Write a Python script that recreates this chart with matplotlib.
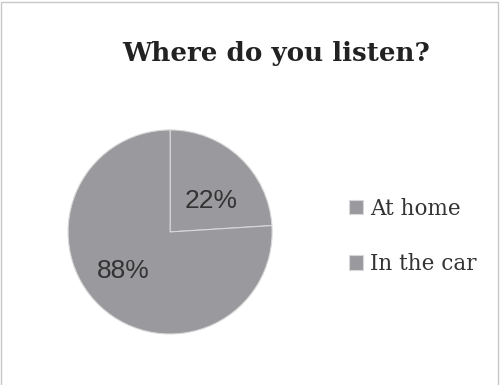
import matplotlib.pyplot as plt
import numpy as np
from matplotlib.patches import Rectangle

# data
places = ["At home", "In the car"]
slice_share = [24, 76]          # share of the circle each slice takes in the picture
slice_labels = ["22%", "88%"]   # labels as printed on the slices
slice_color = "#9a9a9e"

fig = plt.figure(figsize=(5.04, 3.85), dpi=100)
fig.patches.append(Rectangle((0.002, -0.01), 0.987, 1.005, transform=fig.transFigure,
                             fill=False, edgecolor="#c8c8c8", linewidth=1))

fig.text(0.548, 0.862, "Where do you listen?", ha="center", va="center",
         fontsize=18.8, fontweight="bold", family="DejaVu Serif", color="#222222")

ax = fig.add_axes([0.135, 0.1325, 0.405, 0.53])
wedges, _ = ax.pie(slice_share, colors=[slice_color] * 2, startangle=90,
                   counterclock=False,
                   wedgeprops=dict(edgecolor="#d8d8d8", linewidth=0.8))
ax.set_xlim(-1, 1)
ax.set_ylim(-1, 1)
ax.set_aspect("equal")

# label distance from centre and angle nudge (deg) from each wedge's middle
label_pos = [(0.5, -10), (0.6, -7)]
for w, lab, (d, nudge) in zip(wedges, slice_labels, label_pos):
    mid = np.deg2rad((w.theta1 + w.theta2) / 2 + nudge)
    ax.text(d * np.cos(mid), d * np.sin(mid), lab, ha="center", va="center",
            fontsize=19, family="Liberation Sans", color="#333333")

leg = fig.legend(wedges, places, loc="center left", bbox_to_anchor=(0.655, 0.386),
                 frameon=False, handlelength=0.65, handleheight=0.65,
                 handletextpad=0.3, labelspacing=1.55,
                 prop=dict(family="DejaVu Serif", size=15.5))
for t in leg.get_texts():
    t.set_color("#333333")

plt.savefig("out.png", dpi=100)
